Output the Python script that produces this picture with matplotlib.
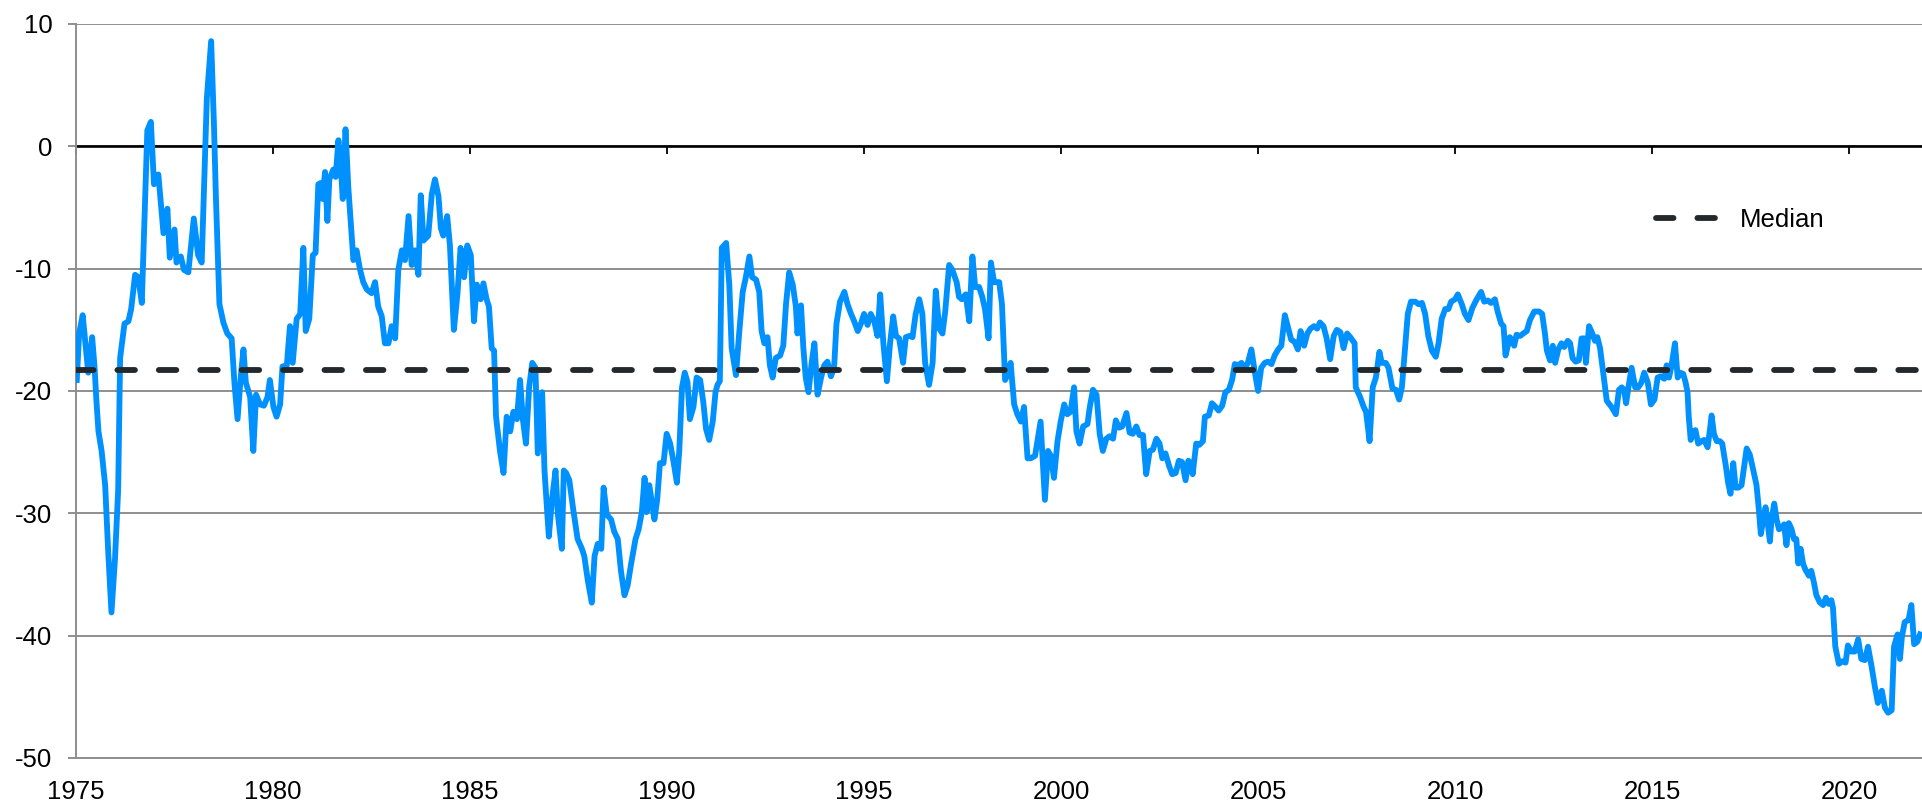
import matplotlib
matplotlib.use('Agg')
import matplotlib.pyplot as plt
import numpy as np

plt.rcParams['font.family'] = ['Liberation Sans', 'DejaVu Sans']
plt.rcParams['font.size'] = 18.5
plt.rcParams['axes.unicode_minus'] = False

# (year, value), split by period
seg_1975 = [
    (1975.02, -19.1), (1975.08, -15.3), (1975.17, -13.8), (1975.31, -18.5), (1975.41, -15.6),
    (1975.47, -18.0), (1975.52, -20.9), (1975.57, -23.3), (1975.65, -24.9), (1975.74, -27.7),
    (1975.82, -33.3), (1975.90, -38.1), (1975.99, -33.7), (1976.07, -28.1), (1976.12, -17.3),
    (1976.23, -14.5), (1976.33, -14.3), (1976.40, -13.3), (1976.50, -10.5), (1976.58, -10.7),
    (1976.67, -12.8), (1976.81, 1.3), (1976.90, 2.0), (1976.98, -3.1), (1977.09, -2.3),
    (1977.22, -7.1), (1977.32, -5.1), (1977.38, -9.1), (1977.50, -6.8), (1977.55, -9.5),
    (1977.66, -9.0), (1977.74, -10.1), (1977.85, -10.3), (1977.99, -5.9), (1978.10, -8.9),
    (1978.19, -9.5), (1978.32, 3.9), (1978.43, 8.6), (1978.50, 1.9), (1978.55, -4.1),
    (1978.64, -12.9), (1978.74, -14.4), (1978.84, -15.3), (1978.95, -15.7), (1979.02, -19.3),
    (1979.10, -22.3), (1979.18, -18.9), (1979.25, -16.6), (1979.31, -19.3), (1979.42, -20.5),
    (1979.50, -24.9), (1979.57, -20.3), (1979.67, -21.1), (1979.77, -21.2), (1979.86, -20.5),
    (1979.92, -19.1), (1980.01, -21.3), (1980.09, -22.1), (1980.18, -21.1), (1980.24, -18.0),
    (1980.35, -17.9), (1980.43, -14.7), (1980.50, -17.7), (1980.60, -14.1), (1980.69, -13.7),
    (1980.77, -8.3), (1980.83, -15.1), (1980.92, -14.1), (1981.01, -8.9), (1981.08, -8.7),
    (1981.15, -3.1), (1981.21, -3.0), (1981.26, -4.3), (1981.32, -2.1), (1981.38, -6.1),
    (1981.43, -2.7), (1981.53, -1.9), (1981.59, -2.5), (1981.66, 0.5), (1981.72, -1.7),
    (1981.77, -4.3), (1981.84, 1.4), (1981.91, -3.3), (1981.97, -6.1), (1982.04, -9.3),
    (1982.12, -8.5), (1982.21, -10.1), (1982.29, -11.1), (1982.38, -11.7), (1982.50, -12.0),
    (1982.59, -11.1), (1982.67, -13.1), (1982.76, -13.9), (1982.84, -16.1), (1982.93, -16.1),
    (1983.01, -14.7), (1983.10, -15.7), (1983.18, -10.1), (1983.27, -8.5), (1983.35, -9.3),
    (1983.44, -5.7), (1983.52, -9.7), (1983.60, -8.5), (1983.69, -10.5), (1983.75, -4.0),
    (1983.82, -7.7), (1983.94, -7.3), (1984.03, -3.9), (1984.11, -2.7), (1984.20, -4.1),
    (1984.26, -6.7), (1984.32, -7.3), (1984.42, -5.7), (1984.49, -8.1), (1984.59, -15.0),
    (1984.68, -12.1), (1984.76, -8.3), (1984.85, -10.7), (1984.93, -8.1), (1985.02, -8.9),
    (1985.10, -14.3), (1985.17, -11.3), (1985.27, -12.5), (1985.34, -11.2), (1985.42, -12.5),
    (1985.48, -13.1), (1985.55, -16.5), (1985.61, -16.7), (1985.66, -22.1), (1985.76, -24.9),
    (1985.85, -26.7), (1985.93, -22.1), (1986.02, -23.3), (1986.10, -21.7), (1986.19, -22.3),
    (1986.27, -19.1), (1986.34, -22.3), (1986.42, -24.3), (1986.50, -19.7),
]

seg_1986 = [
    (1986.58, -17.7), (1986.66, -18.1), (1986.72, -25.1), (1986.83, -20.1), (1986.89, -26.5),
    (1987.00, -31.9), (1987.08, -28.9), (1987.17, -26.5), (1987.23, -30.1), (1987.33, -32.9),
    (1987.38, -26.5), (1987.44, -26.7), (1987.52, -27.3), (1987.62, -29.7), (1987.73, -32.1),
    (1987.84, -32.9), (1987.90, -33.5), (1987.99, -35.5), (1988.09, -37.3), (1988.16, -33.5),
    (1988.24, -32.5), (1988.33, -32.9), (1988.39, -27.9), (1988.47, -30.1), (1988.58, -30.5),
    (1988.66, -31.5), (1988.75, -32.1), (1988.83, -34.7), (1988.92, -36.7), (1989.00, -35.9),
    (1989.09, -34.1), (1989.20, -32.1), (1989.28, -31.3), (1989.36, -29.9), (1989.43, -27.1),
    (1989.48, -29.9), (1989.55, -27.7), (1989.68, -30.5), (1989.75, -28.9), (1989.82, -25.9),
    (1989.91, -25.9), (1989.99, -23.5), (1990.08, -24.3), (1990.16, -25.7), (1990.25, -27.5),
    (1990.31, -24.9), (1990.38, -19.7), (1990.45, -18.5), (1990.52, -19.3), (1990.58, -22.3),
    (1990.67, -21.3), (1990.75, -18.9), (1990.84, -19.1), (1990.92, -20.9), (1990.99, -23.1),
    (1991.07, -24.0), (1991.16, -22.5), (1991.23, -20.1), (1991.28, -19.5), (1991.34, -19.2),
    (1991.39, -8.3), (1991.50, -7.9), (1991.58, -11.3), (1991.64, -16.5), (1991.75, -18.7),
    (1991.83, -15.3), (1991.92, -11.9), (1992.00, -10.7), (1992.09, -9.0), (1992.16, -10.7),
    (1992.26, -10.9), (1992.34, -11.9), (1992.40, -15.1), (1992.47, -16.1), (1992.55, -15.6),
    (1992.61, -17.9), (1992.68, -18.9), (1992.76, -17.3), (1992.87, -17.1), (1992.95, -16.3),
    (1993.02, -12.9), (1993.10, -10.3), (1993.19, -11.3), (1993.27, -13.1), (1993.31, -15.3),
    (1993.40, -13.0), (1993.46, -16.5), (1993.52, -18.9), (1993.59, -20.1), (1993.67, -17.7),
    (1993.74, -16.1), (1993.82, -20.3), (1993.91, -18.9), (1993.99, -17.9), (1994.07, -17.6),
    (1994.16, -18.8), (1994.24, -18.1), (1994.30, -14.5), (1994.39, -12.7), (1994.50, -11.9),
    (1994.58, -12.9), (1994.67, -13.7), (1994.75, -14.3), (1994.84, -15.1), (1994.92, -14.5),
    (1995.00, -13.7), (1995.09, -14.6), (1995.17, -13.7), (1995.26, -14.3), (1995.34, -15.5),
    (1995.41, -12.1), (1995.49, -16.1), (1995.58, -19.2), (1995.66, -16.1), (1995.74, -13.9),
    (1995.81, -15.5), (1995.89, -15.7), (1995.99, -17.7), (1996.06, -15.6), (1996.15, -15.5),
    (1996.23, -15.6), (1996.31, -13.7), (1996.40, -12.5), (1996.48, -13.7), (1996.55, -17.7),
    (1996.65, -19.5), (1996.74, -17.7), (1996.82, -11.8), (1996.91, -14.9), (1996.99, -15.3),
    (1997.06, -13.5), (1997.16, -9.7), (1997.24, -10.1), (1997.35, -11.1), (1997.41, -12.3),
    (1997.48, -12.5), (1997.58, -12.1), (1997.67, -14.3), (1997.75, -9.0), (1997.82, -11.5),
    (1997.92, -11.5), (1998.00, -12.3), (1998.07, -13.3), (1998.16, -15.7), (1998.22, -9.5),
    (1998.30, -11.1), (1998.43, -11.1), (1998.50, -12.9),
]

seg_1998 = [
    (1998.58, -19.1), (1998.64, -18.7), (1998.72, -17.7), (1998.81, -21.1), (1998.89, -21.9),
    (1998.98, -22.5), (1999.06, -21.3), (1999.15, -25.5), (1999.23, -25.5), (1999.34, -25.3),
    (1999.40, -24.1), (1999.48, -22.5), (1999.59, -28.9), (1999.67, -24.9), (1999.74, -25.3),
    (1999.82, -27.1), (1999.91, -24.1), (1999.99, -22.5), (2000.08, -21.1), (2000.16, -21.9),
    (2000.24, -21.7), (2000.33, -19.7), (2000.39, -23.3), (2000.47, -24.3), (2000.56, -22.9),
    (2000.67, -22.7), (2000.73, -21.3), (2000.81, -19.9), (2000.90, -20.3), (2000.98, -23.5),
    (2001.06, -24.9), (2001.15, -23.9), (2001.23, -23.7), (2001.32, -23.9), (2001.39, -22.4),
    (2001.47, -23.0), (2001.55, -22.9), (2001.66, -21.8), (2001.74, -23.4), (2001.82, -23.5),
    (2001.91, -22.9), (2001.99, -23.6), (2002.08, -23.6), (2002.16, -26.8), (2002.25, -24.9),
    (2002.33, -24.8), (2002.42, -23.9), (2002.50, -24.3), (2002.57, -25.5), (2002.65, -25.1),
    (2002.74, -26.1), (2002.82, -26.8), (2002.91, -26.7), (2002.99, -25.7), (2003.07, -25.8),
    (2003.16, -27.3), (2003.23, -25.7), (2003.29, -25.9), (2003.34, -26.8), (2003.43, -24.3),
    (2003.51, -24.4), (2003.60, -24.1), (2003.65, -22.1), (2003.75, -22.0), (2003.83, -21.0),
    (2003.92, -21.3), (2004.00, -21.6), (2004.09, -21.2), (2004.17, -20.1), (2004.26, -19.9),
    (2004.34, -19.1), (2004.41, -17.8), (2004.49, -17.9), (2004.58, -17.7), (2004.66, -18.2),
    (2004.74, -17.7), (2004.83, -16.6), (2004.92, -18.5), (2005.00, -20.0), (2005.08, -18.1),
    (2005.17, -17.7), (2005.25, -17.6), (2005.34, -17.8), (2005.42, -17.1), (2005.51, -16.6),
    (2005.59, -16.3), (2005.68, -13.8), (2005.76, -14.8), (2005.84, -15.8), (2005.93, -16.0),
    (2006.01, -16.6), (2006.08, -15.1), (2006.17, -16.3), (2006.25, -15.3), (2006.33, -14.9),
    (2006.42, -14.7), (2006.50, -14.9), (2006.57, -14.4), (2006.66, -14.7), (2006.74, -15.7),
    (2006.83, -17.4), (2006.92, -15.5), (2007.00, -15.0), (2007.09, -15.2), (2007.17, -16.5),
    (2007.26, -15.3), (2007.34, -15.6), (2007.45, -16.1), (2007.48, -19.7), (2007.59, -20.5),
    (2007.68, -21.3), (2007.74, -21.7), (2007.83, -24.1), (2007.91, -19.7), (2007.99, -18.9),
    (2008.08, -16.8), (2008.14, -17.7), (2008.24, -17.7), (2008.31, -18.1), (2008.41, -19.8),
    (2008.50, -19.9), (2008.58, -20.7), (2008.65, -19.7), (2008.73, -16.5), (2008.80, -13.7),
    (2008.88, -12.7), (2008.99, -12.7), (2009.07, -12.9), (2009.16, -12.8), (2009.24, -13.7),
    (2009.32, -15.5), (2009.41, -16.7), (2009.51, -17.2), (2009.58, -16.1), (2009.66, -14.1),
    (2009.75, -13.3), (2009.83, -13.3), (2009.90, -12.7),
]

seg_2010 = [
    (2010.00, -12.5), (2010.07, -12.1), (2010.17, -12.9), (2010.25, -13.7), (2010.34, -14.2),
    (2010.44, -13.2), (2010.55, -12.5), (2010.66, -11.9), (2010.74, -12.7), (2010.83, -12.6),
    (2010.91, -12.8), (2011.01, -12.5), (2011.08, -13.5), (2011.17, -14.5), (2011.23, -14.7),
    (2011.28, -17.1), (2011.34, -16.3), (2011.39, -15.6), (2011.45, -15.9), (2011.50, -16.3),
    (2011.56, -15.4), (2011.65, -15.5), (2011.73, -15.3), (2011.82, -15.1), (2011.90, -14.2),
    (2012.01, -13.5), (2012.13, -13.5), (2012.21, -13.7), (2012.28, -15.3), (2012.33, -16.7),
    (2012.41, -17.5), (2012.48, -16.3), (2012.54, -17.7), (2012.62, -16.6), (2012.70, -16.1),
    (2012.77, -16.4), (2012.86, -15.9), (2012.92, -16.1), (2012.98, -17.3), (2013.06, -17.6),
    (2013.14, -17.5), (2013.21, -15.7), (2013.28, -15.7), (2013.32, -17.7), (2013.40, -14.7),
    (2013.47, -15.2), (2013.55, -15.9), (2013.61, -15.6), (2013.68, -16.5), (2013.76, -18.5),
    (2013.85, -20.8), (2013.97, -21.3), (2014.08, -21.9), (2014.16, -19.9), (2014.23, -19.7),
    (2014.29, -19.9), (2014.34, -21.0), (2014.40, -19.7), (2014.48, -18.1), (2014.57, -19.7),
    (2014.65, -19.7), (2014.73, -19.3), (2014.80, -18.5), (2014.89, -19.3), (2014.97, -21.1),
    (2015.06, -20.7), (2015.14, -18.9), (2015.22, -18.8), (2015.31, -19.0), (2015.37, -17.9),
    (2015.43, -18.9), (2015.49, -18.0), (2015.58, -16.1), (2015.65, -18.9), (2015.71, -18.5),
    (2015.79, -18.6), (2015.85, -19.3), (2015.90, -20.1), (2015.93, -22.1), (2015.98, -24.0),
    (2016.04, -23.3), (2016.10, -23.2), (2016.17, -24.3), (2016.26, -24.1), (2016.32, -24.0),
    (2016.41, -24.6), (2016.47, -23.1), (2016.51, -22.0), (2016.57, -23.5), (2016.64, -24.1),
    (2016.72, -24.1), (2016.78, -24.3), (2016.87, -26.1), (2016.93, -27.5), (2016.99, -28.4),
    (2017.06, -25.9), (2017.12, -27.9), (2017.19, -27.9), (2017.27, -27.7), (2017.34, -26.1),
    (2017.40, -24.7), (2017.48, -25.2), (2017.57, -26.5), (2017.65, -27.7), (2017.71, -29.7),
    (2017.76, -31.7), (2017.82, -30.5), (2017.88, -29.5), (2017.93, -30.7), (2017.99, -32.3),
    (2018.03, -30.5), (2018.10, -29.2), (2018.16, -30.5), (2018.22, -31.3), (2018.28, -31.2),
    (2018.35, -30.9), (2018.41, -32.6), (2018.47, -30.8), (2018.54, -31.3), (2018.60, -32.1),
    (2018.66, -32.1), (2018.71, -34.1), (2018.77, -32.9), (2018.83, -34.1), (2018.89, -34.6),
    (2018.98, -35.1), (2019.04, -34.7), (2019.11, -35.7), (2019.17, -36.7), (2019.26, -37.3),
    (2019.34, -37.5), (2019.41, -36.9), (2019.48, -37.4), (2019.55, -37.1), (2019.59, -37.7),
    (2019.65, -40.9), (2019.74, -42.3), (2019.82, -42.1), (2019.91, -42.2), (2019.97, -40.8),
    (2020.06, -41.3), (2020.14, -41.3), (2020.23, -40.3), (2020.31, -41.9), (2020.40, -42.0),
    (2020.48, -40.9), (2020.57, -42.5), (2020.65, -44.1), (2020.73, -45.5), (2020.83, -44.5),
    (2020.91, -45.9), (2020.99, -46.3), (2021.08, -46.1), (2021.14, -40.9), (2021.23, -39.9),
    (2021.29, -41.9), (2021.34, -40.1), (2021.41, -38.9), (2021.51, -38.7), (2021.58, -37.5),
    (2021.65, -40.7), (2021.73, -40.5), (2021.80, -39.9),
]

median_value = -18.3
year_ticks = [1975, 1980, 1985, 1990, 1995, 2000, 2005, 2010, 2015, 2020]
value_ticks = [-50, -40, -30, -20, -10, 0, 10]

series = np.array(seg_1975 + seg_1986 + seg_1998 + seg_2010)
years = series[:, 0]
values = series[:, 1]

fig = plt.figure(figsize=(19.22, 8.02), dpi=100)
ax = fig.add_axes([76 / 1922, 44 / 802, 1846 / 1922, 734 / 802])

grey = '#8e8e8e'
ax.set_xlim(1975, 2021.85)
ax.set_ylim(-50, 10)
ax.set_yticks(value_ticks)
ax.set_xticks(year_ticks)
ax.yaxis.grid(True, color=grey, lw=1.4)
ax.set_axisbelow(True)

for side in ['top', 'right']:
    ax.spines[side].set_visible(False)
for side in ['left', 'bottom']:
    ax.spines[side].set_color(grey)
    ax.spines[side].set_linewidth(1.4)

ax.tick_params(axis='y', direction='out', length=6, width=1.4, color=grey, pad=11)
ax.tick_params(axis='x', length=0, pad=16)

# zero line with the year ticks hanging off it
ax.axhline(0, color='black', lw=1.9, zorder=1.5)
sec = ax.secondary_xaxis(50 / 60)
sec.set_alignment('bottom')
sec.set_xticks(year_ticks)
sec.spines['bottom'].set_visible(False)
sec.tick_params(axis='x', direction='out', length=5.5, width=1.3, color='black',
                labelbottom=False, labeltop=False)

ax.plot(years, values, color='#0091FF', lw=4.2, solid_joinstyle='round', zorder=3)
ax.axhline(median_value, color='#23282d', lw=4.2, linestyle=(0, (3.0, 4.1)),
           dash_capstyle='round', zorder=4, label='Median')

ax.legend(loc='center left', bbox_to_anchor=(0.856, 0.7333), frameon=False,
          borderpad=0, borderaxespad=0, handlelength=2.75, handletextpad=0.5,
          fontsize=18.5)

fig.savefig('out.png', dpi=100)
